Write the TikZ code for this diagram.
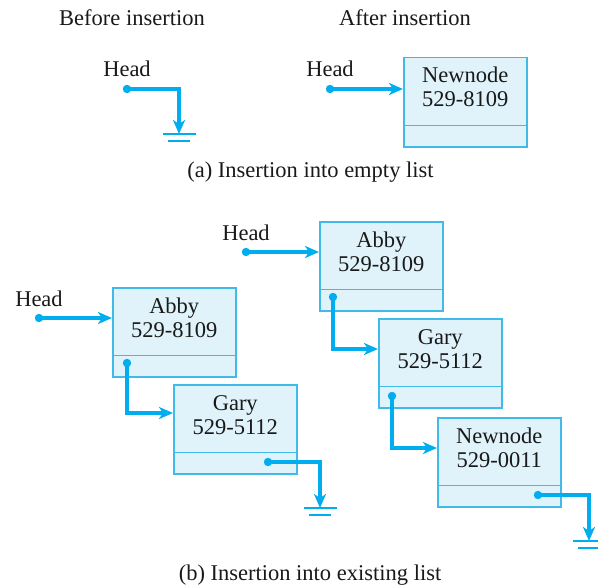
\documentclass[tikz,border=0pt]{standalone}
\usepackage{fontspec}
\setmainfont{Liberation Serif}
\usetikzlibrary{arrows.meta}
\definecolor{linkblue}{RGB}{0,174,239}
\definecolor{boxfill}{RGB}{224,243,251}
\definecolor{boxedge}{RGB}{64,186,232}

\begin{document}
\begin{tikzpicture}[x=1bp, y=-1bp,
    every node/.style={font=\fontsize{22.5bp}{24bp}\selectfont, inner sep=0pt, text=black!90},
    listbox/.style={rectangle, draw=boxedge, fill=boxfill, line width=1.5bp,
      minimum width=123bp, minimum height=89bp},
    link/.style={draw=linkblue, line width=3.3bp},
    linkarrow/.style={link, -{Stealth[length=14bp, width=12bp, inset=4bp]}},
    gnd/.style={draw=linkblue, line width=2bp}]
  \useasboundingbox (0,0) rectangle (598,587);

  % titles and captions
  \node[anchor=base] (before) at (132,26) {Before insertion};
  \node[anchor=base] (after) at (405,26) {After insertion};
  \node[anchor=base] (capA) at (310.5,178) {(a) Insertion into empty list};
  \node[anchor=base] (capB) at (310,580) {(b) Insertion into existing list};

  % list boxes
  \foreach \n/\x/\y/\nm/\num in {newA/403/57/Newnode/529-8109,
      abbyL/112/287/Abby/529-8109, garyL/173/384/Gary/529-5112,
      abbyR/319/221/Abby/529-8109, garyR/378/318/Gary/529-5112,
      newR/437/417/Newnode/529-0011} {
    \node[listbox, anchor=north west] (\n) at (\x,\y) {};
    \node[anchor=base] (\n-a) at ([yshift=-26bp]\n.north) {\nm};
    \node[anchor=base] (\n-b) at ([yshift=-50bp]\n.north) {\num};
    \draw[boxedge, line width=1.5bp] ([yshift=22bp]\n.south west) -- ([yshift=22bp]\n.south east);
  }

  % head pointers
  \foreach \h/\x/\y in {hB/127/89, hA/330/89, hL/39/318, hR/246/252} {
    \coordinate (\h) at (\x,\y);
    \node[anchor=base] (\h-lbl) at ([yshift=12bp]\h) {Head};
  }
  % next pointers
  \coordinate (abbyL-p) at (127,363);
  \coordinate (garyL-p) at (268,462);
  \coordinate (abbyR-p) at (333,297);
  \coordinate (garyR-p) at (392,396);
  \coordinate (newR-p) at (538,495);

  % grounds
  \foreach \g/\x/\y in {g1/179/134, g2/320/508, g3/589/541} {
    \coordinate (\g) at (\x,\y);
    \draw[gnd] ([xshift=-16.5bp]\g) -- ([xshift=16.5bp]\g);
    \draw[gnd] ([xshift=-11bp, yshift=-7bp]\g) -- ([xshift=11bp, yshift=-7bp]\g);
  }

  % connectors
  \draw[linkarrow] (hB) -| (g1);
  \draw[linkarrow] (hA) -- (hA -| newA.west);
  \draw[linkarrow] (hL) -- (hL -| abbyL.west);
  \draw[linkarrow] (abbyL-p) |- ([yshift=-29bp]garyL.north west);
  \draw[linkarrow] (garyL-p) -| (g2);
  \draw[linkarrow] (hR) -- (hR -| abbyR.west);
  \draw[linkarrow] (abbyR-p) |- ([yshift=-31bp]garyR.north west);
  \draw[linkarrow] (garyR-p) |- ([yshift=-31bp]newR.north west);
  \draw[linkarrow] (newR-p) -| (g3);

  \foreach \p in {hB, hA, hL, hR, abbyL-p, garyL-p, abbyR-p, garyR-p, newR-p}
    \fill[linkblue] (\p) circle[radius=4.2bp];
\end{tikzpicture}
\end{document}
